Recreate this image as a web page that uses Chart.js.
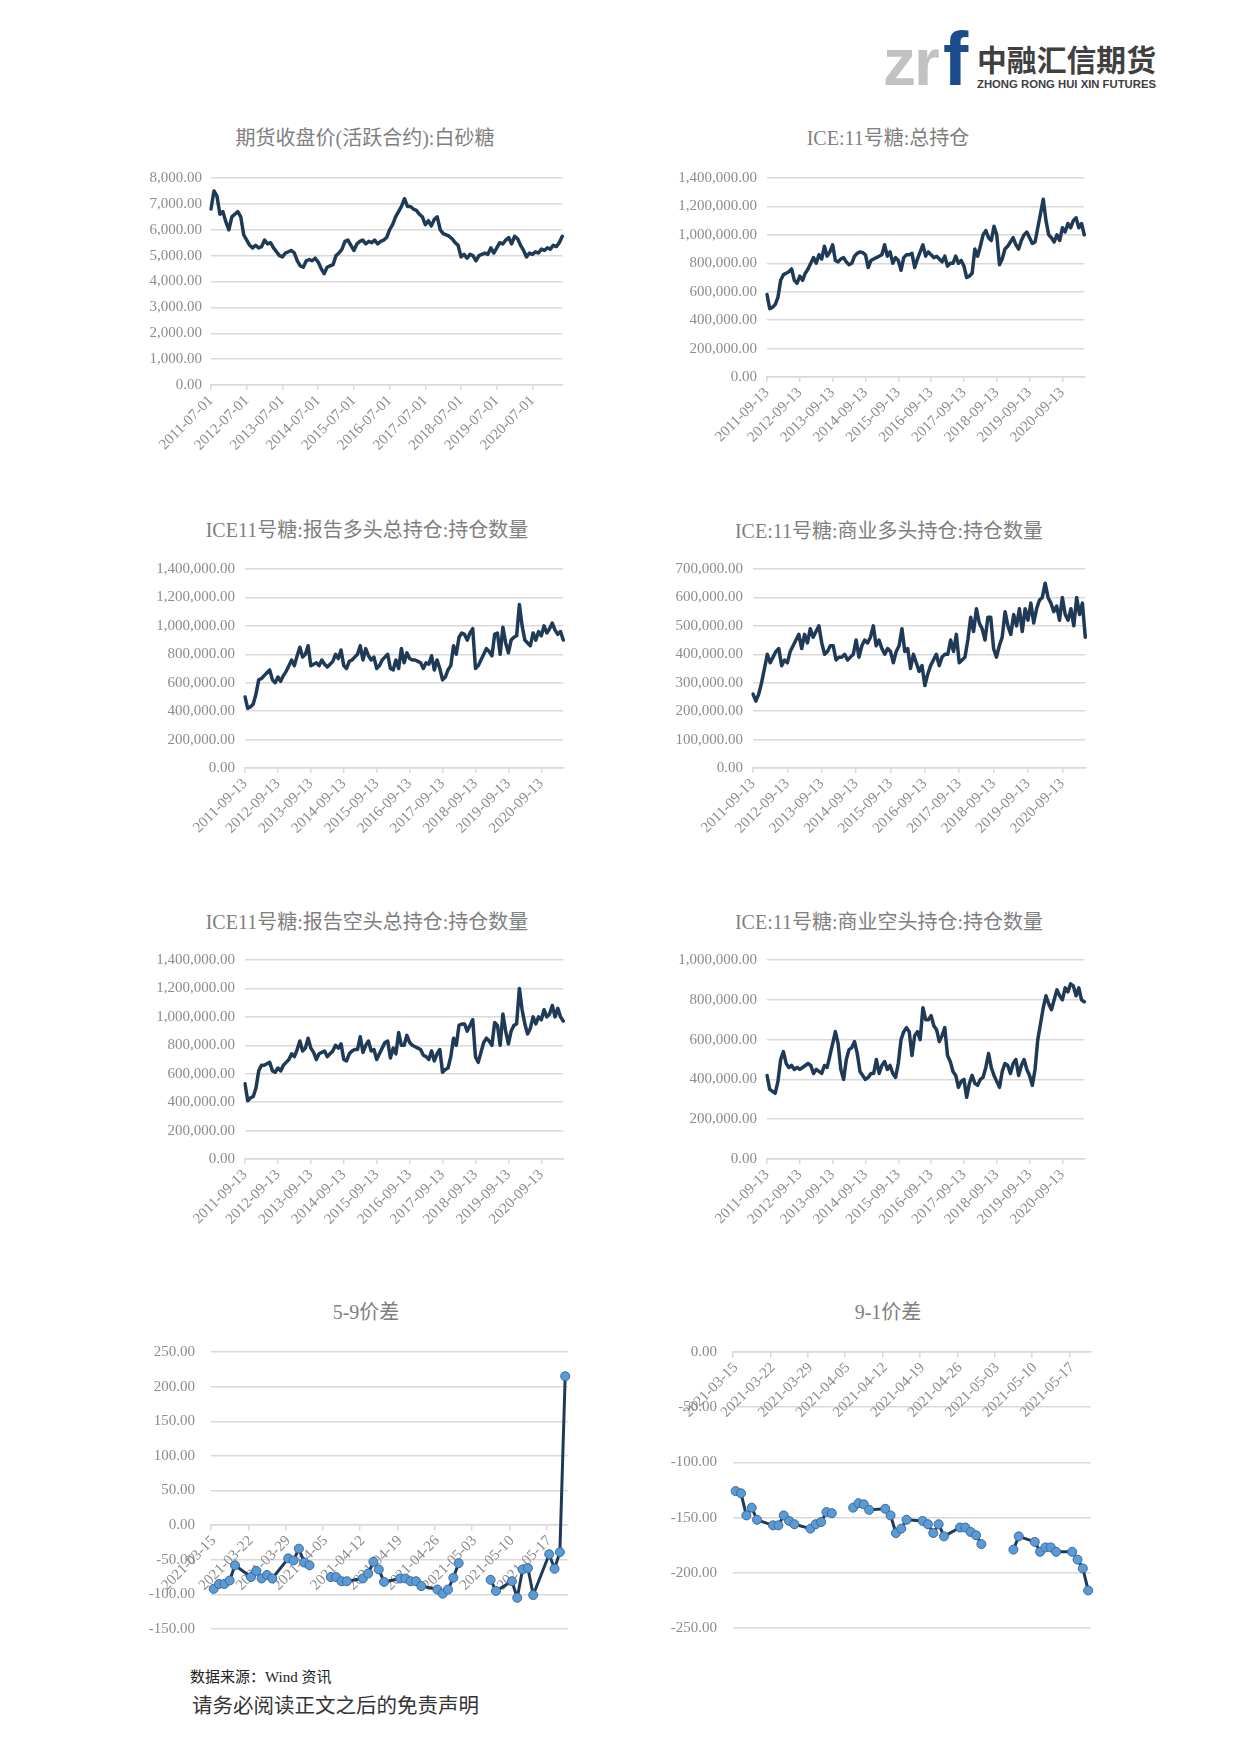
<!DOCTYPE html>
<html>
<head>
<meta charset="utf-8">
<script src="https://cdn.jsdelivr.net/npm/chart.js@4.4.1/dist/chart.umd.min.js"></script>
<style>
  html, body { margin: 0; padding: 0; background: #fff; }
  body { width: 1240px; height: 1753px; position: relative; overflow: hidden; font-family: 'Liberation Serif', 'Noto Sans CJK SC', serif; }
  canvas { position: absolute; }
  .ttl { position: absolute; transform: translate(-50%, -50%); white-space: nowrap; font-size: 20px; line-height: 1; color: #7F7F7F; font-family: 'Liberation Serif', 'Noto Sans CJK SC', serif; }
  .foot { position: absolute; white-space: nowrap; line-height: 1; font-family: 'Liberation Serif', 'Noto Sans CJK SC', serif; }
</style>
</head>
<body>

<svg style="position:absolute;left:870px;top:22px" width="300" height="75" viewBox="0 0 300 75">
  <text x="13" y="63" font-family="Liberation Sans" font-weight="bold" font-size="66" fill="#C2C2C2" letter-spacing="-2">zr</text>
  <text x="73" y="63" font-family="Liberation Sans" font-weight="bold" font-size="76" fill="#1C4C8E">f</text>
  <text x="107" y="49" font-family="Noto Sans CJK SC" font-weight="bold" font-size="30" fill="#404040" textLength="179" lengthAdjust="spacingAndGlyphs">中融汇信期货</text>
  <text x="107" y="66" font-family="Liberation Sans" font-weight="bold" font-size="11" fill="#404040" textLength="179" lengthAdjust="spacingAndGlyphs">ZHONG RONG HUI XIN FUTURES</text>
</svg>

<div class="ttl" style="left:365px;top:138px">期货收盘价(活跃合约):白砂糖</div>
<div class="ttl" style="left:888px;top:138px">ICE:11号糖:总持仓</div>
<div class="ttl" style="left:367px;top:530px">ICE11号糖:报告多头总持仓:持仓数量</div>
<div class="ttl" style="left:889px;top:531px">ICE:11号糖:商业多头持仓:持仓数量</div>
<div class="ttl" style="left:367px;top:922px">ICE11号糖:报告空头总持仓:持仓数量</div>
<div class="ttl" style="left:889px;top:922px">ICE:11号糖:商业空头持仓:持仓数量</div>
<div class="ttl" style="left:366px;top:1312px">5-9价差</div>
<div class="ttl" style="left:888px;top:1312px">9-1价差</div>

<div class="foot" style="left:190px;top:1670px;font-size:15px;color:#222">数据来源：Wind 资讯</div>
<div class="foot" style="left:192px;top:1696px;font-size:20.5px;color:#333">请务必阅读正文之后的免责声明</div>

<script>
// ---------------- DATA ----------------
// Monthly category builders (dates only)
function monthlyLabels(startYear, startMonth, day, count) {
  const out = [];
  for (let i = 0; i < count; i++) {
    const m = startMonth - 1 + i;
    const y = startYear + Math.floor(m / 12);
    const mm = (m % 12) + 1;
    out.push(y + '-' + String(mm).padStart(2, '0') + '-' + day);
  }
  return out;
}
const sugarMonths = monthlyLabels(2011, 7, '01', 119);   // 2011-07-01 ... 2021-05-01
const iceMonths = monthlyLabels(2011, 9, '13', 117);     // 2011-09-13 ... 2021-05-13

// 期货收盘价(活跃合约):白砂糖
const sugarClose = [
  6800,7500,7300,6600,6700,6300,6000,6500,6600,6700,6500,5800,
  5600,5400,5300,5400,5300,5350,5600,5450,5500,5300,5150,5000,
  4950,5100,5150,5200,5100,4800,4600,4550,4800,4850,4800,4900,
  4750,4500,4300,4550,4600,4650,5000,5100,5250,5550,5600,5400,
  5200,5450,5550,5600,5450,5550,5500,5600,5450,5550,5600,5700,
  6000,6200,6500,6700,6900,7200,6900,6900,6800,6750,6600,6500,
  6200,6350,6150,6400,6500,6000,5850,5800,5750,5650,5500,5400,
  4950,5050,4900,5050,5000,4800,5000,5050,5100,5050,5300,5100,
  5300,5500,5450,5600,5700,5450,5750,5650,5400,5200,4950,5100,
  5050,5150,5100,5250,5200,5300,5250,5400,5350,5500,5750
];

// ICE:11号糖:总持仓
const iceTotalOI = [
  580000,480000,490000,510000,560000,680000,720000,730000,740000,760000,680000,660000,
  710000,680000,730000,760000,800000,840000,800000,860000,830000,920000,850000,880000,
  930000,820000,810000,830000,840000,810000,790000,800000,850000,870000,880000,875000,
  860000,770000,820000,830000,840000,850000,860000,930000,850000,880000,800000,840000,
  820000,750000,840000,860000,860000,870000,770000,830000,880000,930000,850000,880000,
  860000,840000,850000,830000,810000,850000,780000,800000,800000,850000,800000,820000,
  780000,700000,710000,730000,900000,850000,920000,1000000,1030000,980000,960000,1060000,
  1000000,790000,830000,900000,920000,950000,980000,930000,900000,960000,1000000,1020000,
  980000,940000,950000,1050000,1150000,1250000,1100000,1000000,980000,950000,1000000,960000,
  1050000,1020000,1080000,1050000,1100000,1120000,1050000,1080000,1000000
];

// ICE11号糖:报告多头总持仓:持仓数量
const iceReportLong = [
  500000,420000,430000,450000,520000,620000,630000,650000,670000,690000,620000,600000,
  640000,610000,650000,680000,720000,760000,720000,790000,850000,780000,800000,860000,
  720000,730000,740000,720000,760000,730000,710000,730000,750000,800000,770000,830000,
  720000,700000,750000,760000,780000,800000,860000,760000,840000,790000,760000,780000,
  700000,720000,760000,780000,800000,700000,690000,760000,700000,840000,740000,810000,
  770000,760000,760000,750000,740000,700000,740000,730000,790000,690000,760000,700000,
  620000,640000,690000,720000,860000,800000,920000,950000,940000,900000,950000,980000,
  700000,720000,760000,800000,840000,820000,790000,940000,950000,800000,990000,880000,
  810000,900000,920000,930000,1150000,1000000,900000,880000,860000,950000,900000,960000,
  930000,1000000,950000,980000,1020000,970000,940000,960000,900000
];

// ICE:11号糖:商业多头持仓:持仓数量
const iceCommLong = [
  260000,235000,260000,300000,350000,400000,370000,390000,410000,420000,360000,380000,
  370000,410000,430000,450000,470000,420000,470000,440000,490000,460000,480000,500000,
  440000,400000,410000,430000,430000,380000,390000,390000,400000,380000,390000,400000,
  450000,390000,430000,450000,440000,460000,500000,430000,450000,420000,400000,420000,
  410000,370000,410000,430000,490000,410000,420000,350000,400000,370000,340000,360000,
  290000,330000,360000,380000,400000,360000,390000,400000,400000,450000,410000,470000,
  370000,380000,390000,450000,530000,480000,560000,510000,490000,450000,530000,530000,
  420000,390000,430000,460000,550000,500000,470000,540000,500000,560000,480000,560000,
  520000,580000,510000,560000,590000,600000,650000,600000,580000,550000,570000,520000,
  600000,540000,520000,560000,500000,600000,540000,580000,460000
];

// ICE11号糖:报告空头总持仓:持仓数量
const iceReportShort = [
  530000,410000,430000,440000,500000,620000,660000,660000,670000,680000,620000,610000,
  640000,620000,660000,680000,700000,740000,720000,770000,830000,760000,780000,850000,
  780000,750000,700000,740000,750000,760000,720000,740000,760000,800000,780000,810000,
  700000,690000,740000,760000,770000,770000,860000,750000,800000,830000,760000,770000,
  700000,740000,780000,820000,830000,710000,780000,740000,890000,800000,800000,870000,
  820000,800000,790000,780000,770000,730000,720000,700000,760000,690000,740000,770000,
  610000,630000,640000,720000,850000,800000,940000,950000,950000,900000,940000,980000,
  720000,680000,750000,820000,850000,830000,800000,960000,940000,800000,1020000,900000,
  810000,900000,940000,950000,1200000,1050000,950000,880000,920000,1000000,950000,1000000,
  980000,1050000,1000000,1020000,1080000,1000000,1060000,1000000,970000
];

// ICE:11号糖:商业空头持仓:持仓数量
const iceCommShort = [
  420000,350000,340000,330000,390000,500000,540000,480000,460000,470000,450000,460000,
  450000,460000,470000,480000,470000,430000,450000,440000,430000,470000,460000,520000,
  580000,640000,580000,450000,400000,500000,550000,560000,590000,530000,440000,420000,
  400000,410000,430000,430000,500000,430000,470000,490000,450000,470000,430000,410000,
  480000,600000,640000,660000,640000,520000,620000,640000,600000,760000,700000,700000,
  720000,670000,650000,590000,620000,660000,520000,490000,440000,420000,360000,390000,
  400000,310000,380000,420000,380000,370000,400000,410000,460000,530000,460000,420000,
  390000,360000,440000,480000,470000,430000,480000,500000,420000,470000,500000,450000,
  420000,370000,450000,600000,680000,760000,820000,780000,750000,800000,850000,820000,
  800000,860000,840000,880000,870000,820000,860000,800000,790000
];

// Daily calendar categories for the spread charts (2021-03-15 ... 2021-05-20)
const dayLabels = (function () {
  const out = [];
  const d = new Date(Date.UTC(2021, 2, 15));
  for (let i = 0; i < 67; i++) {
    out.push(d.toISOString().slice(0, 10));
    d.setUTCDate(d.getUTCDate() + 1);
  }
  return out;
})();

// trading days
const spreadDates = [
  '2021-03-15','2021-03-16','2021-03-17','2021-03-18','2021-03-19',
  '2021-03-22','2021-03-23','2021-03-24','2021-03-25','2021-03-26',
  '2021-03-29','2021-03-30','2021-03-31','2021-04-01','2021-04-02',
  '2021-04-06','2021-04-07','2021-04-08','2021-04-09',
  '2021-04-12','2021-04-13','2021-04-14','2021-04-15','2021-04-16',
  '2021-04-19','2021-04-20','2021-04-21','2021-04-22','2021-04-23',
  '2021-04-26','2021-04-27','2021-04-28','2021-04-29','2021-04-30',
  '2021-05-06','2021-05-07',
  '2021-05-10','2021-05-11','2021-05-12','2021-05-13','2021-05-14',
  '2021-05-17','2021-05-18','2021-05-19','2021-05-20'
];
// 5-9价差
const spread59 = [
  -92,-85,-85,-80,-58,
  -75,-66,-77,-72,-77,
  -48,-51,-34,-54,-58,
  -75,-75,-81,-81,
  -77,-70,-53,-64,-82,
  -77,-77,-81,-81,-88,
  -93,-99,-93,-76,-55,
  -79,-95,
  -81,-105,-64,-62,-101,
  -42,-63,-39,215
];
// 9-1价差
const spread91 = [
  -126,-128,-148,-141,-152,
  -157,-157,-148,-153,-156,
  -160,-156,-154,-145,-146,
  -141,-137,-138,-143,
  -142,-148,-164,-160,-152,
  -153,-156,-164,-156,-167,
  -159,-159,-163,-166,-174,
  -179,-167,
  -172,-181,-177,-177,-181,
  -181,-188,-196,-216
];

// ---------------- STYLE ----------------
const LINE = '#1F3A56';
const GRID = '#D9D9D9';
const TICK = '#8C8C8C';
const FONT = "'Liberation Serif', 'Noto Sans CJK SC', serif";
const NONE = 'rgba(0,0,0,0)';
const FS = 15;

function fmt(v) {
  return Number(v).toLocaleString('en-US', { minimumFractionDigits: 2, maximumFractionDigits: 2 });
}

function makeCanvas(box) {
  const c = document.createElement('canvas');
  const w = (box.r - box.l) + box.yW + box.pr;
  const h = box.pt + (box.b - box.t) + box.xH;
  c.width = w; c.height = h;
  c.style.width = w + 'px'; c.style.height = h + 'px';
  c.style.left = (box.l - box.yW) + 'px';
  c.style.top = (box.t - box.pt) + 'px';
  document.body.appendChild(c);
  return c;
}

function yScale(box, min, max, step) {
  return {
    min: min, max: max,
    ticks: { stepSize: step, padding: box.yp, color: TICK, font: { family: FONT, size: FS }, callback: v => fmt(v) },
    grid: { color: GRID, lineWidth: 1.5, drawTicks: false },
    border: { display: false },
    afterFit: s => { s.width = box.yW; }
  };
}

function longChart(box, labels, values, min, max, step) {
  const c = makeCanvas(box);
  new Chart(c, {
    type: 'line',
    data: {
      labels: labels,
      datasets: [{
        data: values, borderColor: LINE, borderWidth: 3.5, pointRadius: 0,
        tension: 0, borderJoinStyle: 'round', borderCapStyle: 'round'
      }]
    },
    options: {
      responsive: false, animation: false,
      layout: { padding: { left: 0, top: box.pt, right: box.pr, bottom: 0 } },
      plugins: { legend: { display: false }, tooltip: { enabled: false } },
      scales: {
        x: {
          type: 'category', offset: false,
          grid: { drawOnChartArea: false, drawTicks: true, tickLength: 5, lineWidth: 1.5,
                  color: ctx => (ctx.index % 12 === 0 ? GRID : NONE) },
          border: { display: true, color: GRID, width: 1.5 },
          ticks: { autoSkip: false, minRotation: 45, maxRotation: 45, padding: 2, color: TICK,
                   font: { family: FONT, size: FS },
                   callback: (v, i) => (i % 12 === 0 ? labels[i] : '') },
          afterFit: s => { s.height = box.xH; }
        },
        y: yScale(box, min, max, step)
      }
    }
  });
}

function spreadChart(box, values, min, max) {
  const c = makeCanvas(box);
  new Chart(c, {
    type: 'line',
    data: {
      labels: dayLabels,
      datasets: [{
        data: spreadDates.map((d, i) => ({ x: d, y: values[i] })),
        borderColor: LINE, borderWidth: 3, tension: 0, spanGaps: 3,
        borderJoinStyle: 'round',
        pointRadius: 4.5, pointBackgroundColor: '#5B9BD5', pointBorderColor: '#3A6A9C', pointBorderWidth: 1
      }]
    },
    options: {
      responsive: false, animation: false,
      layout: { padding: { left: 0, top: box.pt, right: box.pr, bottom: box.xH } },
      plugins: { legend: { display: false }, tooltip: { enabled: false } },
      scales: {
        x: {
          type: 'category', offset: true, position: { y: 0 },
          grid: { offset: true, drawOnChartArea: false, drawTicks: true, tickLength: 5, lineWidth: 1.5,
                  color: ctx => (ctx.index % 7 === 0 ? GRID : NONE) },
          border: { display: true, color: GRID, width: 1.5 },
          ticks: { autoSkip: false, minRotation: 45, maxRotation: 45, padding: 2, color: TICK,
                   font: { family: FONT, size: FS },
                   callback: (v, i) => (i % 7 === 0 ? dayLabels[i] : '') }
        },
        y: yScale(box, min, max, 50)
      }
    }
  });
}

// ---------------- CHARTS ----------------
const B = (l, r, t, b, yp, xH) => ({ l, r, t, b, yp, xH, yW: 120, pt: 34, pr: 12 });

longChart(B(211, 565, 178, 385, 9, 80), sugarMonths, sugarClose, 0, 8000, 1000);
longChart(B(767, 1087, 178, 377, 10, 80), iceMonths, iceTotalOI, 0, 1400000, 200000);
longChart(B(245, 566, 569, 768, 10, 80), iceMonths, iceReportLong, 0, 1400000, 200000);
longChart(B(753, 1088, 569, 768, 10, 80), iceMonths, iceCommLong, 0, 700000, 100000);
longChart(B(245, 566, 960, 1159, 10, 80), iceMonths, iceReportShort, 0, 1400000, 200000);
longChart(B(767, 1087, 960, 1159, 10, 80), iceMonths, iceCommShort, 0, 1000000, 200000);
spreadChart(B(211, 568, 1352, 1629, 16, 34), spread59, -150, 250);
spreadChart(B(733, 1091, 1352, 1628, 16, 34), spread91, -250, 0);
</script>
</body>
</html>
